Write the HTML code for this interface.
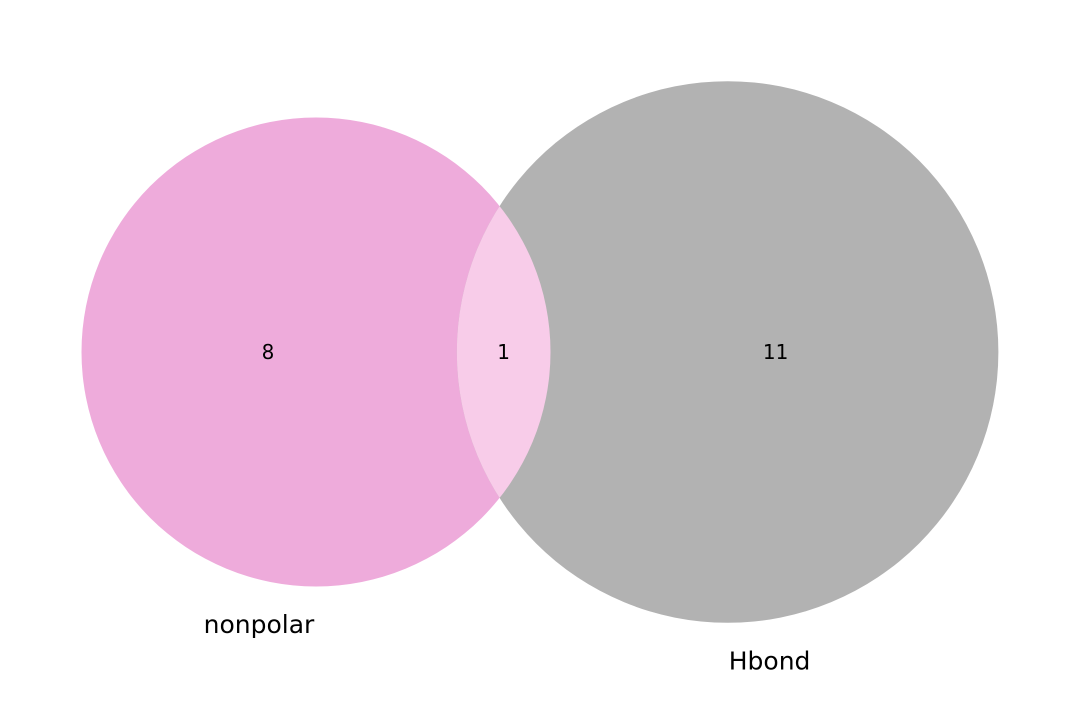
<!DOCTYPE html>
<html><head><meta charset="utf-8"><style>
html,body{margin:0;padding:0;background:#fff;}
svg{display:block;font-family:"DejaVu Sans","Liberation Sans",sans-serif;}
</style></head><body>
<svg id="venn" width="1080" height="705" viewBox="0 0 1080 705" xmlns="http://www.w3.org/2000/svg">
<defs>
<clipPath id="clipL"><circle id="clipCircle" cx="0" cy="0" r="0"/></clipPath>
</defs>
</svg>
<script>
const setNames = ["nonpolar", "Hbond"];
const onlyCounts = [8, 11];
const overlapCount = [1];

const NS = "http://www.w3.org/2000/svg";
const svg = document.getElementById("venn");
const areaA = onlyCounts[0] + overlapCount[0];
const areaB = onlyCounts[1] + overlapCount[0];
const k = 234.5 / Math.sqrt(9);
const rA = k * Math.sqrt(areaA), rB = k * Math.sqrt(areaB);
function lensArea(d, r1, r2) {
  if (d >= r1 + r2) return 0;
  if (d <= Math.abs(r1 - r2)) return Math.PI * Math.min(r1, r2) ** 2;
  const a = r1*r1*Math.acos((d*d + r1*r1 - r2*r2)/(2*d*r1));
  const b = r2*r2*Math.acos((d*d + r2*r2 - r1*r1)/(2*d*r2));
  const c = 0.5*Math.sqrt((-d+r1+r2)*(d+r1-r2)*(d-r1+r2)*(d+r1+r2));
  return a + b - c;
}
const target = Math.PI * k * k * overlapCount[0];
let lo = Math.abs(rA - rB), hi = rA + rB;
for (let i = 0; i < 60; i++) { const m = (lo + hi) / 2; if (lensArea(m, rA, rB) > target) lo = m; else hi = m; }
const d = (lo + hi) / 2 + 2;
const cy = 352;
const cxA = 316, cxB = cxA + d;

function circ(cx, r, fill, name) {
  const c = document.createElementNS(NS, "circle");
  c.setAttribute("cx", cx); c.setAttribute("cy", cy); c.setAttribute("r", r);
  c.setAttribute("fill", fill);
  
  
  svg.appendChild(c);
  return c;
}
circ(cxA, rA, "#eeabdb", "nonpolar-circle");
circ(cxB, rB, "#b2b2b2", "hbond-circle");
const cc = document.getElementById("clipCircle");
cc.setAttribute("cx", cxA); cc.setAttribute("cy", cy); cc.setAttribute("r", rA);
const lens = circ(cxB, rB, "#f8cce9", "overlap-region");
lens.setAttribute("clip-path", "url(#clipL)");

function txt(x, y, s, size, name) {
  const t = document.createElementNS(NS, "text");
  t.setAttribute("x", x); t.setAttribute("y", y);
  t.setAttribute("text-anchor", "middle");
  t.setAttribute("dominant-baseline", "central");
  t.setAttribute("font-size", size);
  t.setAttribute("fill", "#000");
  t.textContent = s;
  
  
  svg.appendChild(t);
}
const lensMid = ((cxB - rB) + (cxA + rA)) / 2;
txt(cxA - 48, cy, onlyCounts[0], 20, "nonpolar-only-count");
txt(lensMid, cy, overlapCount[0], 20, "overlap-count");
txt(cxB + 48, cy, onlyCounts[1], 20, "hbond-only-count");
txt(cxA - 57, cy + rA + 38, setNames[0], 25, "nonpolar-label");
txt(cxB + 42, cy + rB + 38, setNames[1], 25, "hbond-label");
</script>
</body></html>
